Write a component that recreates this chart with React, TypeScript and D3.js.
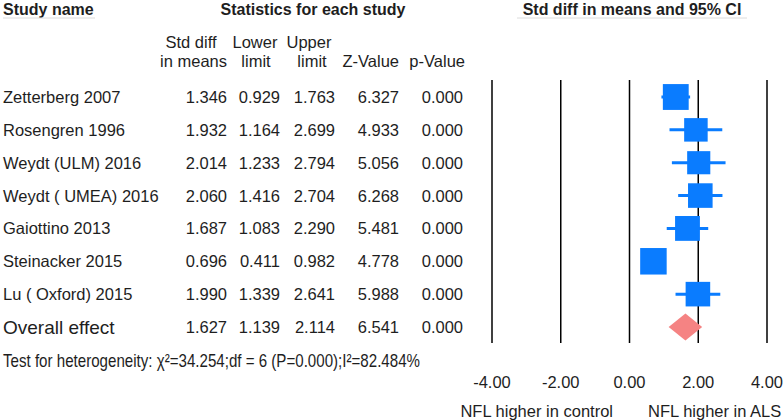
import * as d3 from "d3";

// Study rows
const studies = [
  "Zetterberg 2007",
  "Rosengren 1996",
  "Weydt (ULM) 2016",
  "Weydt ( UMEA) 2016",
  "Gaiottino 2013",
  "Steinacker 2015",
  "Lu ( Oxford) 2015",
];
const stdDiff = [1.346, 1.932, 2.014, 2.06, 1.687, 0.696, 1.99];
const lower = [0.929, 1.164, 1.233, 1.416, 1.083, 0.411, 1.339];
const upper = [1.763, 2.699, 2.794, 2.704, 2.29, 0.982, 2.641];
const zValue = [6.327, 4.933, 5.056, 6.268, 5.481, 4.778, 5.988];
const pValue = [0.0, 0.0, 0.0, 0.0, 0.0, 0.0, 0.0];
const weights = [15.6, 12.9, 12.5, 14.1, 14.4, 16.4, 14.1];

// Pooled estimate
const overall = { name: "Overall effect", est: 1.627, lo: 1.139, hi: 2.114, z: 6.541, p: 0.0 };

const ticks = [-4, -2, 0, 2, 4];
const heterogeneity = "Test for heterogeneity: \u03c7\u00b2=34.254;df = 6 (P=0.000);I\u00b2=82.484%";

const W = 783;
const H = 420;
const FONT = "'Liberation Sans', Arial, sans-serif";
const TXT = "#1e1e1e";
const BLUE = "#0a7cff";
const PINK = "#f58383";

const App = () => {
  const x = d3.scaleLinear().domain([-4, 4]).range([492, 767]);
  const rows = [...studies, overall.name];
  const y = d3.scalePoint<string>().domain(rows).range([97, 327]);
  const side = d3.scaleSqrt().domain([0, d3.max(weights) ?? 1]).range([0, 26.5]);
  const fmt = d3.format(".3f");
  const tickFmt = (t: number) => t.toFixed(2); // plain hyphen like the original

  // right edges of numeric columns
  const cols = [227, 280, 335, 399, 463];

  const numRow = (vals: number[], cy: number, key: string) =>
    vals.map((v, j) => (
      <text key={key + j} x={cols[j]} y={cy + 6} textAnchor="end" fontSize={16.5}>
        {fmt(v)}
      </text>
    ));

  return (
    <svg
      width={W}
      height={H}
      style={{ position: "absolute", left: 0, top: 0, background: "#fff" }}
      fontFamily={FONT}
      fill={TXT}
    >
      {/* headers */}
      <g fontWeight="bold" fontSize={16}>
        <text x={3} y={15}>Study name</text>
        <text x={313} y={15} textAnchor="middle">Statistics for each study</text>
        <text x={632} y={15} textAnchor="middle">Std diff in means and 95% CI</text>
      </g>
      <line x1={3} x2={95} y1={18} y2={18} stroke="#dcdcdc" />
      <line x1={517} x2={747} y1={18} y2={18} stroke="#dcdcdc" />

      <g fontSize={16.5}>
        <text x={191} y={48} textAnchor="middle">Std diff</text>
        <text x={227} y={67} textAnchor="end">in means</text>
        <text x={255} y={48} textAnchor="middle">Lower</text>
        <text x={256} y={67} textAnchor="middle">limit</text>
        <text x={309} y={48} textAnchor="middle">Upper</text>
        <text x={312} y={67} textAnchor="middle">limit</text>
        <text x={399} y={67} textAnchor="end">Z-Value</text>
        <text x={465} y={67} textAnchor="end">p-Value</text>
      </g>

      {/* study rows */}
      {studies.map((s, i) => {
        const cy = y(s) ?? 0;
        return (
          <g key={s}>
            <text x={3} y={cy + 6} fontSize={16.5}>{s}</text>
            {numRow([stdDiff[i], lower[i], upper[i], zValue[i], pValue[i]], cy, s)}
          </g>
        );
      })}

      {/* overall row */}
      <text x={3} y={(y(overall.name) ?? 0) + 7} fontSize={19}>{overall.name}</text>
      {numRow([overall.est, overall.lo, overall.hi, overall.z, overall.p], y(overall.name) ?? 0, "ov")}

      <text x={3} y={367} fontSize={18.5} textLength={417} lengthAdjust="spacingAndGlyphs">
        {heterogeneity}
      </text>

      {/* reference lines */}
      {ticks.map((t) => (
        <line key={"l" + t} x1={x(t)} x2={x(t)} y1={80} y2={343} stroke="#000" strokeWidth={1.5} />
      ))}

      {/* CIs and squares */}
      {studies.map((s, i) => {
        const cy = y(s) ?? 0;
        const sz = side(weights[i]);
        return (
          <g key={"m" + s}>
            <line x1={x(lower[i])} x2={x(upper[i])} y1={cy} y2={cy} stroke={BLUE} strokeWidth={3} />
            <rect x={x(stdDiff[i]) - sz / 2} y={cy - sz / 2} width={sz} height={sz} fill={BLUE} />
          </g>
        );
      })}

      {/* pooled diamond */}
      {(() => {
        const cy = y(overall.name) ?? 0;
        const pts = [
          [x(overall.lo), cy],
          [x(overall.est), cy - 13.5],
          [x(overall.hi), cy],
          [x(overall.est), cy + 13.5],
        ];
        return <polygon points={pts.map((p) => p.join(",")).join(" ")} fill={PINK} />;
      })()}

      {/* axis labels */}
      <g fontSize={16.5}>
        {ticks.map((t) => (
          <text key={"t" + t} x={x(t)} y={388} textAnchor="middle">
            {tickFmt(t)}
          </text>
        ))}
        <text x={613} y={417} textAnchor="end">NFL higher in control</text>
        <text x={648} y={417}>NFL higher in ALS</text>
      </g>
    </svg>
  );
};

export default App;
